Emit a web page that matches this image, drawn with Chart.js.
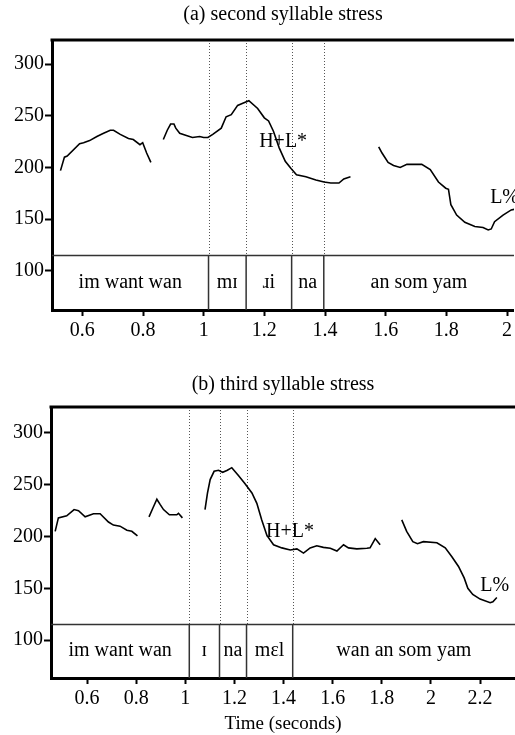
<!DOCTYPE html>
<html>
<head>
<meta charset="utf-8">
<script src="https://cdn.jsdelivr.net/npm/chart.js@4"></script>
<style>
  html, body { margin: 0; padding: 0; background: #fff; overflow: hidden; }
  canvas { position: absolute; left: 0; }
  #chart-a { top: 0; }
  #chart-b { top: 355px; }
</style>
</head>
<body>
<canvas id="chart-a" width="515" height="355"></canvas>
<canvas id="chart-b" width="515" height="380"></canvas>
<script>
// (a) second syllable stress: F0 contour pieces, [time s, Hz]
const aSeg1 = [[0.528, 197], [0.541, 210], [0.550, 211], [0.591, 223], [0.604, 224], [0.624, 226], [0.648, 230], [0.670, 233], [0.692, 236], [0.703, 236], [0.725, 232], [0.752, 228], [0.768, 227], [0.790, 222], [0.799, 224], [0.812, 214], [0.826, 205]];
const aSeg2 = [[0.867, 227], [0.880, 236], [0.891, 242], [0.902, 242], [0.908, 238], [0.921, 233], [0.943, 231], [0.963, 229], [0.987, 230], [1.000, 229], [1.014, 229], [1.030, 232], [1.058, 238], [1.074, 249], [1.091, 251], [1.112, 260], [1.129, 262], [1.149, 264.5], [1.178, 257], [1.200, 248], [1.214, 245], [1.230, 235], [1.249, 219], [1.269, 206], [1.288, 199], [1.306, 193], [1.337, 191], [1.370, 188], [1.397, 186], [1.419, 185], [1.446, 185], [1.462, 189], [1.484, 191]];
const aSeg3 = [[1.577, 220], [1.588, 214], [1.608, 205], [1.626, 202], [1.648, 200], [1.670, 203], [1.719, 203], [1.747, 198], [1.774, 186], [1.798, 180], [1.807, 179], [1.815, 164], [1.834, 154], [1.861, 147], [1.894, 143], [1.921, 142], [1.938, 139.6], [1.948, 140.6], [1.959, 147.6], [1.987, 154], [2.014, 159], [2.030, 160]];
const aBounds = [1.016, 1.14, 1.29, 1.396];
const aWords = ["im want wan", "mɪ", "ɹi", "na", "an som yam"];
const aNoteText = ["H+L*", "L%"];
const aNoteT = [1.262, 1.992];
const aNoteHz = [225, 171];
const aTicksX = [0.6, 0.8, 1, 1.2, 1.4, 1.6, 1.8, 2];

// (b) third syllable stress
const bSeg1 = [[0.470, 205], [0.483, 218], [0.517, 220], [0.547, 226], [0.565, 225], [0.592, 219], [0.626, 222], [0.653, 222], [0.687, 214], [0.707, 211], [0.734, 210], [0.762, 206], [0.782, 205], [0.805, 200.5]];
const bSeg2 = [[0.852, 219], [0.867, 227], [0.884, 236], [0.897, 231], [0.911, 226], [0.935, 221], [0.965, 221], [0.972, 222.4], [0.988, 218]];
const bSeg3 = [[1.080, 226], [1.090, 242], [1.101, 255], [1.117, 263], [1.135, 264], [1.152, 262], [1.171, 264], [1.189, 266.5], [1.216, 259], [1.243, 251], [1.271, 242], [1.291, 232], [1.311, 216], [1.332, 201], [1.359, 192], [1.393, 189], [1.427, 187], [1.454, 188], [1.481, 184], [1.508, 189], [1.535, 191], [1.562, 189.5], [1.590, 188.6], [1.617, 186], [1.644, 192], [1.664, 189], [1.698, 188], [1.739, 188.6], [1.752, 189], [1.773, 198], [1.793, 192]];
const bSeg4 = [[1.881, 216], [1.901, 205], [1.926, 195], [1.945, 193], [1.969, 195], [2.024, 194], [2.058, 189], [2.085, 180.5], [2.112, 171], [2.135, 160], [2.150, 150], [2.170, 144], [2.200, 139.5], [2.241, 136], [2.252, 137], [2.268, 141]];
const bBounds = [1.016, 1.139, 1.249, 1.437];
const bWords = ["im want wan", "ɪ", "na", "mɛl", "wan an som yam"];
const bNoteText = ["H+L*", "L%"];
const bNoteT = [1.426, 2.259];
const bNoteHz = [205, 152];
const bTicksX = [0.6, 0.8, 1, 1.2, 1.4, 1.6, 1.8, 2, 2.2];

const ticksY = [100, 150, 200, 250, 300];
const boxHz = 115;

const SERIF = "'Liberation Serif', 'Times New Roman', serif";
Chart.defaults.font.family = SERIF;
Chart.defaults.font.size = 20;
Chart.defaults.color = "#000";

const makePanel = (canvasId, cfg) => {
  const segLine = (pts) => ({
    data: pts.map((p) => ({ x: p[0], y: p[1] })),
    showLine: true,
    borderColor: "#000",
    borderWidth: 1.6,
    pointRadius: 0,
    tension: 0,
  });

  const tierPlugin = {
    id: "tier",
    beforeDatasetsDraw(chart) {
      const { ctx, chartArea, scales } = chart;
      const yBox = scales.y.getPixelForValue(boxHz);
      ctx.save();
      ctx.strokeStyle = "#555";
      ctx.lineWidth = 1;
      ctx.setLineDash([1, 2]);
      cfg.bounds.forEach((b) => {
        const x = Math.round(scales.x.getPixelForValue(b)) + 0.5;
        ctx.beginPath();
        ctx.moveTo(x, chartArea.top);
        ctx.lineTo(x, yBox);
        ctx.stroke();
      });
      ctx.restore();
    },
    afterDatasetsDraw(chart) {
      const { ctx, chartArea, scales } = chart;
      const yBox = scales.y.getPixelForValue(boxHz);
      ctx.save();
      ctx.strokeStyle = "#333";
      ctx.lineWidth = 1.5;
      ctx.beginPath();
      ctx.moveTo(chartArea.left, yBox);
      ctx.lineTo(chartArea.right, yBox);
      cfg.bounds.forEach((b) => {
        const x = scales.x.getPixelForValue(b);
        ctx.moveTo(x, yBox);
        ctx.lineTo(x, chartArea.bottom);
      });
      ctx.stroke();

      // word labels centred between tier boundaries
      const edges = [scales.x.min, ...cfg.bounds, scales.x.max];
      const yMid = (yBox + chartArea.bottom) / 2;
      ctx.fillStyle = "#000";
      ctx.font = "20px " + SERIF;
      ctx.textAlign = "center";
      ctx.textBaseline = "middle";
      cfg.words.forEach((w, i) => {
        const x0 = scales.x.getPixelForValue(edges[i]);
        const x1 = scales.x.getPixelForValue(edges[i + 1]);
        ctx.fillText(w, (x0 + x1) / 2, yMid);
      });

      // tone labels
      cfg.noteText.forEach((txt, i) => {
        ctx.fillText(txt, scales.x.getPixelForValue(cfg.noteT[i]), scales.y.getPixelForValue(cfg.noteHz[i]));
      });

      // top frame line and panel title
      ctx.strokeStyle = "#000";
      ctx.lineWidth = 3;
      ctx.beginPath();
      ctx.moveTo(chartArea.left - 1.5, chartArea.top);
      ctx.lineTo(chartArea.right, chartArea.top);
      ctx.stroke();
      ctx.font = "20px " + SERIF;
      ctx.fillText(cfg.title, (chartArea.left + chartArea.right) / 2, chartArea.top - cfg.titleGap);
      ctx.restore();
    },
  };

  return new Chart(document.getElementById(canvasId), {
    type: "scatter",
    data: { datasets: cfg.segments.map(segLine) },
    options: {
      responsive: false,
      animation: false,
      devicePixelRatio: 1,
      layout: { padding: { top: cfg.padTop, left: 0, right: 0, bottom: 0 } },
      plugins: { legend: { display: false }, tooltip: { enabled: false } },
      scales: {
        x: {
          type: "linear",
          min: cfg.xMin,
          max: cfg.xMax,
          afterBuildTicks: (scale) => { scale.ticks = cfg.ticksX.map((v) => ({ value: v })); },
          afterFit: (scale) => { scale.height = cfg.xHeight; },
          ticks: { padding: 3, maxRotation: 0, autoSkip: false, callback: (v) => String(v) },
          grid: { drawOnChartArea: false, color: "#000", tickLength: 6, tickWidth: 2 },
          border: { display: true, color: "#000", width: 3 },
          title: cfg.xTitle
            ? { display: true, text: cfg.xTitle, padding: { top: 0, bottom: 0 }, font: { size: 19 } }
            : { display: false },
        },
        y: {
          min: cfg.yMin,
          max: cfg.yMax,
          afterBuildTicks: (scale) => { scale.ticks = ticksY.map((v) => ({ value: v })); },
          afterFit: (scale) => { scale.width = cfg.yWidth; },
          ticks: { padding: 1, callback: (v) => String(v) },
          grid: { drawOnChartArea: false, color: "#000", tickLength: 7, tickWidth: 2 },
          border: { display: true, color: "#000", width: 3 },
        },
      },
    },
    plugins: [tierPlugin],
  });
};

makePanel("chart-a", {
  segments: [aSeg1, aSeg2, aSeg3],
  bounds: aBounds,
  words: aWords,
  noteText: aNoteText,
  noteT: aNoteT,
  noteHz: aNoteHz,
  ticksX: aTicksX,
  title: "(a) second syllable stress",
  titleGap: 25,
  padTop: 40,
  xMin: 0.5,
  xMax: 2.023,
  yMin: 62.3,
  yMax: 323.2,
  xHeight: 45,
  yWidth: 52,
});

makePanel("chart-b", {
  segments: [bSeg1, bSeg2, bSeg3, bSeg4],
  bounds: bBounds,
  words: bWords,
  noteText: bNoteText,
  noteT: bNoteT,
  noteHz: bNoteHz,
  ticksX: bTicksX,
  title: "(b) third syllable stress",
  titleGap: 22,
  padTop: 52,
  xMin: 0.453,
  xMax: 2.342,
  yMin: 63.3,
  yMax: 325.1,
  xHeight: 57,
  yWidth: 51,
  xTitle: "Time (seconds)",
});
</script>
</body>
</html>
